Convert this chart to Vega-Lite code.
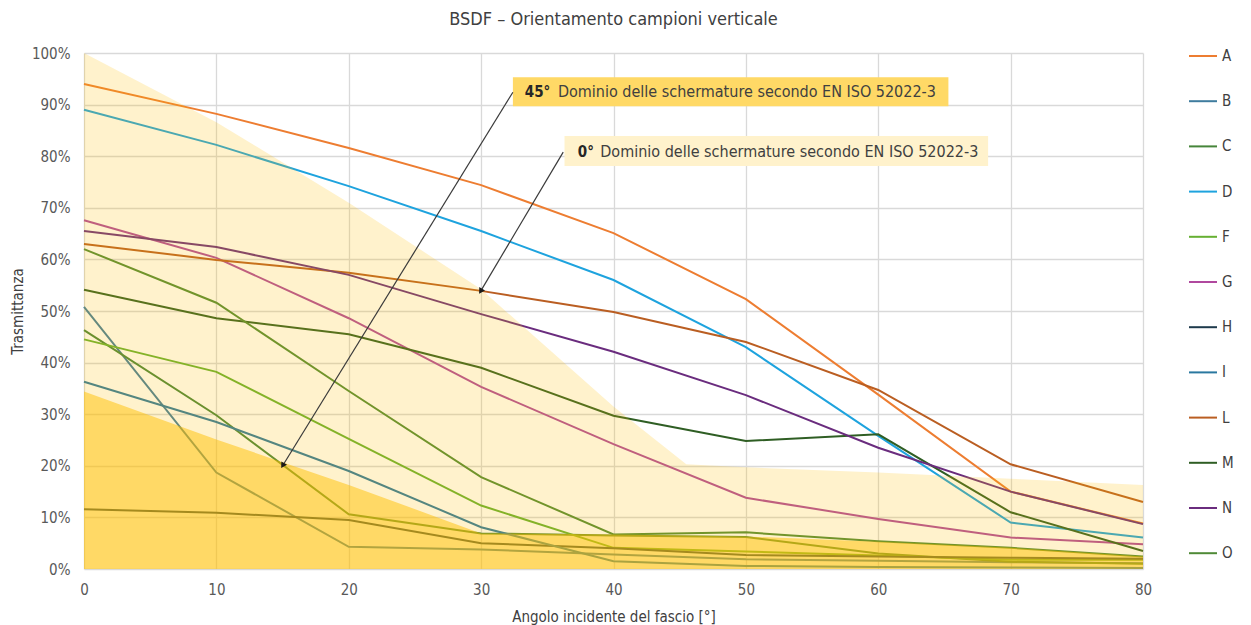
{
  "$schema": "https://vega.github.io/schema/vega-lite/v6.json",
  "width": 1059,
  "height": 516,
  "autosize": {"type": "none"},
  "padding": {"left": 84, "top": 53, "right": 108, "bottom": 56},
  "background": "white",
  "config": {
    "font": "Liberation Sans Narrow, DejaVu Sans Condensed, sans-serif",
    "view": {"stroke": null},
    "axis": {
      "labelFont": "Liberation Sans Narrow, DejaVu Sans Condensed, sans-serif",
      "titleFont": "Liberation Sans Narrow, DejaVu Sans Condensed, sans-serif",
      "labelColor": "#595959",
      "titleColor": "#404040",
      "labelFontSize": 15,
      "titleFontSize": 15,
      "titleFontWeight": "normal",
      "gridColor": "#D9D9D9",
      "gridWidth": 1.3,
      "domain": false,
      "ticks": false,
      "labelFlush": false
    },
    "legend": {
      "labelFont": "Liberation Sans Narrow, DejaVu Sans Condensed, sans-serif",
      "labelFontSize": 15,
      "labelColor": "#404040"
    }
  },
  "title": {
    "text": "BSDF – Orientamento campioni verticale",
    "font": "Liberation Sans Narrow, DejaVu Sans Condensed, sans-serif",
    "fontSize": 18,
    "fontWeight": "normal",
    "color": "#404040",
    "anchor": "middle",
    "offset": 12
  },
  "datasets": {
    "serie": [
      {"campione": "A", "angolo": 0, "T": 94.0}, {"campione": "A", "angolo": 10, "T": 88.2}, {"campione": "A", "angolo": 20, "T": 81.6}, {"campione": "A", "angolo": 30, "T": 74.4}, {"campione": "A", "angolo": 40, "T": 65.1}, {"campione": "A", "angolo": 50, "T": 52.3}, {"campione": "A", "angolo": 60, "T": 33.8}, {"campione": "A", "angolo": 70, "T": 15.0}, {"campione": "A", "angolo": 80, "T": 8.8},
      {"campione": "B", "angolo": 0, "T": 50.8}, {"campione": "B", "angolo": 10, "T": 18.7}, {"campione": "B", "angolo": 20, "T": 4.3}, {"campione": "B", "angolo": 30, "T": 3.8}, {"campione": "B", "angolo": 40, "T": 2.8}, {"campione": "B", "angolo": 50, "T": 1.9}, {"campione": "B", "angolo": 60, "T": 1.6}, {"campione": "B", "angolo": 70, "T": 1.3}, {"campione": "B", "angolo": 80, "T": 1.1},
      {"campione": "C", "angolo": 0, "T": 46.3}, {"campione": "C", "angolo": 10, "T": 29.8}, {"campione": "C", "angolo": 20, "T": 10.6}, {"campione": "C", "angolo": 30, "T": 6.9}, {"campione": "C", "angolo": 40, "T": 6.5}, {"campione": "C", "angolo": 50, "T": 6.2}, {"campione": "C", "angolo": 60, "T": 3.0}, {"campione": "C", "angolo": 70, "T": 1.4}, {"campione": "C", "angolo": 80, "T": 1.0},
      {"campione": "D", "angolo": 0, "T": 89.0}, {"campione": "D", "angolo": 10, "T": 82.2}, {"campione": "D", "angolo": 20, "T": 74.2}, {"campione": "D", "angolo": 30, "T": 65.5}, {"campione": "D", "angolo": 40, "T": 56.0}, {"campione": "D", "angolo": 50, "T": 43.0}, {"campione": "D", "angolo": 60, "T": 25.8}, {"campione": "D", "angolo": 70, "T": 9.0}, {"campione": "D", "angolo": 80, "T": 6.1},
      {"campione": "F", "angolo": 0, "T": 44.5}, {"campione": "F", "angolo": 10, "T": 38.2}, {"campione": "F", "angolo": 20, "T": 25.2}, {"campione": "F", "angolo": 30, "T": 12.3}, {"campione": "F", "angolo": 40, "T": 4.1}, {"campione": "F", "angolo": 50, "T": 3.4}, {"campione": "F", "angolo": 60, "T": 2.6}, {"campione": "F", "angolo": 70, "T": 1.8}, {"campione": "F", "angolo": 80, "T": 1.8},
      {"campione": "G", "angolo": 0, "T": 67.6}, {"campione": "G", "angolo": 10, "T": 60.3}, {"campione": "G", "angolo": 20, "T": 48.6}, {"campione": "G", "angolo": 30, "T": 35.3}, {"campione": "G", "angolo": 40, "T": 24.2}, {"campione": "G", "angolo": 50, "T": 13.8}, {"campione": "G", "angolo": 60, "T": 9.7}, {"campione": "G", "angolo": 70, "T": 6.1}, {"campione": "G", "angolo": 80, "T": 4.8},
      {"campione": "H", "angolo": 0, "T": 11.6}, {"campione": "H", "angolo": 10, "T": 10.9}, {"campione": "H", "angolo": 20, "T": 9.5}, {"campione": "H", "angolo": 30, "T": 5.0}, {"campione": "H", "angolo": 40, "T": 4.0}, {"campione": "H", "angolo": 50, "T": 2.7}, {"campione": "H", "angolo": 60, "T": 2.4}, {"campione": "H", "angolo": 70, "T": 2.2}, {"campione": "H", "angolo": 80, "T": 2.0},
      {"campione": "I", "angolo": 0, "T": 36.3}, {"campione": "I", "angolo": 10, "T": 28.5}, {"campione": "I", "angolo": 20, "T": 19.0}, {"campione": "I", "angolo": 30, "T": 8.1}, {"campione": "I", "angolo": 40, "T": 1.5}, {"campione": "I", "angolo": 50, "T": 0.6}, {"campione": "I", "angolo": 60, "T": 0.4}, {"campione": "I", "angolo": 70, "T": 0.3}, {"campione": "I", "angolo": 80, "T": 0.2},
      {"campione": "L", "angolo": 0, "T": 63.0}, {"campione": "L", "angolo": 10, "T": 59.9}, {"campione": "L", "angolo": 20, "T": 57.4}, {"campione": "L", "angolo": 30, "T": 53.9}, {"campione": "L", "angolo": 40, "T": 49.8}, {"campione": "L", "angolo": 50, "T": 44.0}, {"campione": "L", "angolo": 60, "T": 34.7}, {"campione": "L", "angolo": 70, "T": 20.3}, {"campione": "L", "angolo": 80, "T": 13.0},
      {"campione": "M", "angolo": 0, "T": 54.1}, {"campione": "M", "angolo": 10, "T": 48.6}, {"campione": "M", "angolo": 20, "T": 45.5}, {"campione": "M", "angolo": 30, "T": 39.0}, {"campione": "M", "angolo": 40, "T": 29.7}, {"campione": "M", "angolo": 50, "T": 24.8}, {"campione": "M", "angolo": 60, "T": 26.1}, {"campione": "M", "angolo": 70, "T": 11.0}, {"campione": "M", "angolo": 80, "T": 3.5},
      {"campione": "N", "angolo": 0, "T": 65.5}, {"campione": "N", "angolo": 10, "T": 62.4}, {"campione": "N", "angolo": 20, "T": 57.0}, {"campione": "N", "angolo": 30, "T": 49.4}, {"campione": "N", "angolo": 40, "T": 42.1}, {"campione": "N", "angolo": 50, "T": 33.7}, {"campione": "N", "angolo": 60, "T": 23.5}, {"campione": "N", "angolo": 70, "T": 15.0}, {"campione": "N", "angolo": 80, "T": 8.7},
      {"campione": "O", "angolo": 0, "T": 62.0}, {"campione": "O", "angolo": 10, "T": 51.6}, {"campione": "O", "angolo": 20, "T": 34.5}, {"campione": "O", "angolo": 30, "T": 17.8}, {"campione": "O", "angolo": 40, "T": 6.7}, {"campione": "O", "angolo": 50, "T": 7.1}, {"campione": "O", "angolo": 60, "T": 5.4}, {"campione": "O", "angolo": 70, "T": 4.1}, {"campione": "O", "angolo": 80, "T": 2.4}
    ],
    "domini": [
      {"angolo": 0, "d0": 100.0, "d45": 34.4},
      {"angolo": 10, "d0": 86.6, "d45": 25.1},
      {"angolo": 20, "d0": 71.0, "d45": 16.3},
      {"angolo": 30, "d0": 54.2, "d45": 6.9},
      {"angolo": 40, "d0": 31.5, "d45": 6.7},
      {"angolo": 45.5, "d0": 20.3, "d45": 6.5},
      {"angolo": 50, "d0": 19.7, "d45": 6.3},
      {"angolo": 60, "d0": 18.7, "d45": 5.3},
      {"angolo": 70, "d0": 17.5, "d45": 4.1},
      {"angolo": 80, "d0": 16.3, "d45": 2.4}
    ],
    "note": [
      {"nome": "45", "x1": 32.4, "x2": 65.3, "y1": 95.3, "y2": 89.7, "fondo": "#FFD966", "xa": 33.3, "xb": 35.8, "yt": 92.5, "grassetto": "45°", "testo": "Dominio delle schermature secondo EN ISO 52022-3", "da_x": 32.4, "da_y": 92.4, "a_x": 15.05, "a_y": 20.2},
      {"nome": "0", "x1": 36.3, "x2": 68.3, "y1": 83.9, "y2": 78.1, "fondo": "#FFF2CC", "xa": 37.3, "xb": 39.0, "yt": 80.9, "grassetto": "0°", "testo": "Dominio delle schermature secondo EN ISO 52022-3", "da_x": 36.2, "da_y": 80.8, "a_x": 30.0, "a_y": 54.0}
    ]
  },
  "layer": [
    {
      "data": {"name": "serie"},
      "mark": {"type": "line", "strokeWidth": 2},
      "encoding": {
        "x": {
          "field": "angolo", "type": "quantitative",
          "title": "Angolo incidente del fascio [°]",
          "scale": {"domain": [0, 80], "nice": false},
          "axis": {"values": [0, 10, 20, 30, 40, 50, 60, 70, 80], "labelPadding": 13, "titlePadding": 12}
        },
        "y": {
          "field": "T", "type": "quantitative",
          "title": "Trasmittanza",
          "scale": {"domain": [0, 100], "nice": false},
          "axis": {"values": [0, 10, 20, 30, 40, 50, 60, 70, 80, 90, 100], "labelExpr": "datum.value + '%'", "labelPadding": 14, "titlePadding": 6}
        },
        "color": {
          "field": "campione", "type": "nominal",
          "scale": {
            "domain": ["A", "B", "C", "D", "F", "G", "H", "I", "L", "M", "N", "O"],
            "range": ["#ED7D31", "#3F7C9E", "#46853A", "#1EA3DE", "#66B032", "#B0489E", "#1E3A4C", "#2A78A0", "#BA5E22", "#2F5E24", "#6A2C7E", "#4F8A36"]
          },
          "legend": {
            "title": null,
            "orient": "none",
            "legendX": 1104,
            "legendY": -12,
            "symbolType": "stroke",
            "symbolSize": 784,
            "symbolStrokeWidth": 2,
            "rowPadding": 22.2,
            "labelOffset": 4
          }
        }
      }
    },
    {
      "data": {"name": "domini"},
      "mark": {"type": "area", "color": "#FFC000", "opacity": 0.2},
      "encoding": {
        "x": {"field": "angolo", "type": "quantitative", "title": "Angolo incidente del fascio [°]"},
        "y": {"field": "d0", "type": "quantitative", "title": "Trasmittanza"},
        "y2": {"datum": 0}
      }
    },
    {
      "data": {"name": "domini"},
      "mark": {"type": "area", "color": "#FFC000", "opacity": 0.5},
      "encoding": {
        "x": {"field": "angolo", "type": "quantitative", "title": "Angolo incidente del fascio [°]"},
        "y": {"field": "d45", "type": "quantitative", "title": "Trasmittanza"},
        "y2": {"datum": 0}
      }
    },
    {
      "data": {"name": "note"},
      "mark": {"type": "rect"},
      "encoding": {
        "x": {"field": "x1", "type": "quantitative", "title": "Angolo incidente del fascio [°]"},
        "x2": {"field": "x2"},
        "y": {"field": "y1", "type": "quantitative", "title": "Trasmittanza"},
        "y2": {"field": "y2"},
        "fill": {"field": "fondo", "type": "nominal", "scale": null}
      }
    },
    {
      "data": {"name": "note"},
      "mark": {"type": "rule", "color": "#3A3A3A", "strokeWidth": 1.2},
      "encoding": {
        "x": {"field": "da_x", "type": "quantitative", "title": "Angolo incidente del fascio [°]"},
        "y": {"field": "da_y", "type": "quantitative", "title": "Trasmittanza"},
        "x2": {"field": "a_x"},
        "y2": {"field": "a_y"}
      }
    },
    {
      "data": {"name": "note"},
      "mark": {"type": "point", "shape": "triangle", "filled": true, "size": 45, "color": "#1A1A1A", "opacity": 1, "angle": 211},
      "encoding": {
        "x": {"field": "a_x", "type": "quantitative", "title": "Angolo incidente del fascio [°]"},
        "y": {"field": "a_y", "type": "quantitative", "title": "Trasmittanza"}
      }
    },
    {
      "data": {"name": "note"},
      "mark": {"type": "text", "align": "left", "baseline": "middle", "fontSize": 15, "fontWeight": "bold", "color": "#262626"},
      "encoding": {
        "x": {"field": "xa", "type": "quantitative", "title": "Angolo incidente del fascio [°]"},
        "y": {"field": "yt", "type": "quantitative", "title": "Trasmittanza"},
        "text": {"field": "grassetto"}
      }
    },
    {
      "data": {"name": "note"},
      "mark": {"type": "text", "align": "left", "baseline": "middle", "fontSize": 16, "color": "#404040"},
      "encoding": {
        "x": {"field": "xb", "type": "quantitative", "title": "Angolo incidente del fascio [°]"},
        "y": {"field": "yt", "type": "quantitative", "title": "Trasmittanza"},
        "text": {"field": "testo"}
      }
    }
  ]
}
